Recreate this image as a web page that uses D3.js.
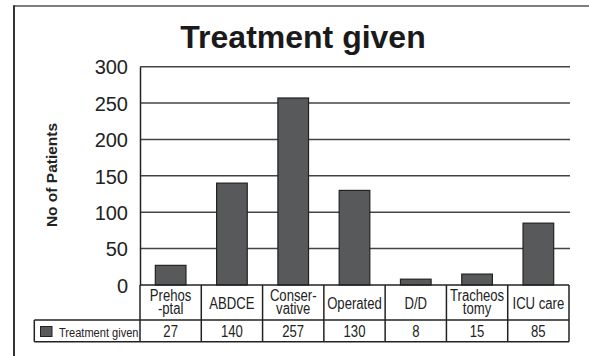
<!DOCTYPE html>
<html>
<head>
<meta charset="utf-8">
<script src="https://cdn.jsdelivr.net/npm/d3@7"></script>
<style>
  html, body { margin: 0; padding: 0; background: #fff; }
  svg { display: block; }
</style>
</head>
<body>
<svg id="chart" width="589" height="356"></svg>
<script>
// Treatment categories (line breaks as printed in the table header)
const categories = ["Prehos\n-ptal", "ABDCE", "Conser-\nvative", "Operated", "D/D", "Tracheos\ntomy", "ICU care"];
const seriesName = "Treatment given";
const values = [27, 140, 257, 130, 8, 15, 85];
const yTicks = [0, 50, 100, 150, 200, 250, 300];

const svg = d3.select("#chart");
const ink = "#222";
const sans = "'Liberation Sans', Arial, Helvetica, sans-serif";
const condense = 0.82; // horizontal squeeze for the table's condensed lettering

// Outer frame (top and left edges)
svg.append("line").attr("x1", 14).attr("x2", 589).attr("y1", 6).attr("y2", 6)
  .attr("stroke", "#555").attr("stroke-width", 1.6);
svg.append("line").attr("x1", 14).attr("x2", 14).attr("y1", 5.2).attr("y2", 356)
  .attr("stroke", "#333").attr("stroke-width", 2);

const plot = { left: 140, right: 569, top: 66.7, bottom: 285 };

const x = d3.scaleBand()
  .domain(categories)
  .range([plot.left, plot.right])
  .paddingInner(0.5)
  .paddingOuter(0.25);

const y = d3.scaleLinear()
  .domain([0, 300])
  .range([plot.bottom, plot.top]);

// Title
svg.append("text")
  .attr("x", 303).attr("y", 48)
  .attr("text-anchor", "middle")
  .attr("font-family", sans)
  .attr("font-weight", "bold")
  .attr("font-size", 32)
  .attr("fill", "#1a1a1a")
  .text("Treatment given");

// Horizontal gridlines
svg.append("g")
  .selectAll("line")
  .data(yTicks.filter(d => d > 0))
  .join("line")
  .attr("x1", plot.left).attr("x2", plot.right + 1)
  .attr("y1", d => y(d)).attr("y2", d => y(d))
  .attr("stroke", "#444").attr("stroke-width", 1.5);

// Y axis with tick labels
const yAxis = d3.axisLeft(y).tickValues(yTicks).tickSize(0).tickPadding(12);
const gy = svg.append("g").attr("transform", `translate(${plot.left},0)`).call(yAxis);
gy.select(".domain").attr("stroke", ink).attr("stroke-width", 1.5);
gy.selectAll("text")
  .attr("font-family", sans)
  .attr("font-size", 20)
  .attr("fill", ink)
  .attr("dy", "0.36em");

// Y axis title
svg.append("text")
  .attr("transform", "translate(57,175) rotate(-90)")
  .attr("text-anchor", "middle")
  .attr("font-family", sans)
  .attr("font-weight", "bold")
  .attr("font-size", 15.5)
  .attr("fill", ink)
  .text("No of Patients");

// Bars
svg.append("g")
  .selectAll("rect")
  .data(values)
  .join("rect")
  .attr("x", (d, i) => x(categories[i]))
  .attr("y", d => y(d))
  .attr("width", x.bandwidth())
  .attr("height", d => y(0) - y(d))
  .attr("fill", "#58595b")
  .attr("stroke", "#222")
  .attr("stroke-width", 1.2);

// Data table below the plot
const rowTop = plot.bottom, rowMid = 320, rowBot = 341.7;
const legendLeft = 34.3;
const half = (x.step() - x.bandwidth()) / 2;
const colLeft = c => x(c) - half;
const table = svg.append("g").attr("stroke", ink).attr("stroke-width", 1.5);

// horizontal rules
table.append("line").attr("x1", plot.left).attr("x2", plot.right).attr("y1", rowTop).attr("y2", rowTop);
table.append("line").attr("x1", legendLeft).attr("x2", plot.right).attr("y1", rowMid).attr("y2", rowMid);
table.append("line").attr("x1", legendLeft).attr("x2", plot.right).attr("y1", rowBot).attr("y2", rowBot);
// vertical rules
table.append("line").attr("x1", legendLeft).attr("x2", legendLeft).attr("y1", rowMid).attr("y2", rowBot);
table.selectAll(".col")
  .data(categories)
  .join("line")
  .attr("class", "col")
  .attr("x1", c => colLeft(c)).attr("x2", c => colLeft(c))
  .attr("y1", rowTop).attr("y2", rowBot);
table.append("line").attr("x1", plot.right).attr("x2", plot.right).attr("y1", rowTop).attr("y2", rowBot);

// condensed text helper: places text at (px, py) squeezed horizontally
function condensedText(g, px, py, size, anchor) {
  return g.append("text")
    .attr("transform", `translate(${px},${py}) scale(${condense},1)`)
    .attr("text-anchor", anchor)
    .attr("font-family", sans)
    .attr("font-size", size)
    .attr("fill", ink);
}

// category labels
const catG = svg.append("g");
categories.forEach(c => {
  const lines = c.split("\n");
  const cx = x(c) + x.bandwidth() / 2;
  const base = lines.length === 1 ? 309.3 : 301;
  const t = condensedText(catG, cx, base, 16, "middle");
  t.selectAll("tspan")
    .data(lines)
    .join("tspan")
    .attr("x", 0)
    .attr("y", (d, i) => i * 13)
    .text(d => d);
});

// value row
const valG = svg.append("g");
values.forEach((v, i) => {
  condensedText(valG, x(categories[i]) + x.bandwidth() / 2, 336.7, 16, "middle").text(v);
});

// legend key in the table
svg.append("rect")
  .attr("x", 40.5).attr("y", 326.5)
  .attr("width", 11.5).attr("height", 10)
  .attr("fill", "#58595b").attr("stroke", "#222").attr("stroke-width", 1);
condensedText(svg, 59, 336.7, 13.5, "start").text(seriesName);
</script>
</body>
</html>
